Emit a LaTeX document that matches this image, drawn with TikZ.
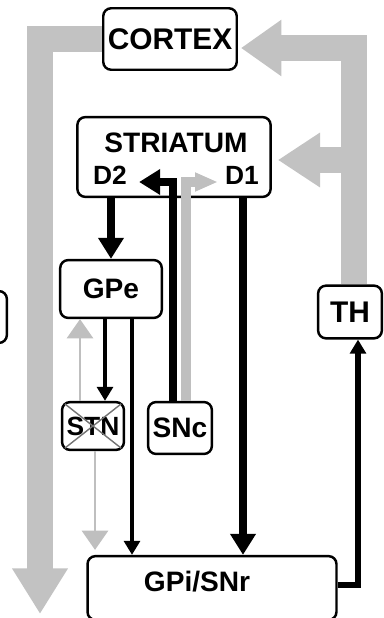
\documentclass[tikz,border=0pt]{standalone}
\usepackage{fontspec}
\setmainfont{Liberation Sans}
\usetikzlibrary{arrows.meta, calc}

\begin{document}
\begin{tikzpicture}[
    x=0.02cm, y=-0.02cm,
    box/.style={draw, line width=1.4pt, rounded corners=4.5pt, inner sep=0pt, font=\fontsize{16}{16}\selectfont\bfseries},
    lbl/.style={font=\fontsize{16}{16}\selectfont\bfseries, inner sep=0pt},
    band/.style={line width=15pt, black!24},
    fat/.style={line width=4.3pt, -{Triangle[width=14pt,length=12pt]}},
    slim/.style={line width=2.4pt, -{Triangle[width=9pt,length=8pt]}},
    faint/.style={line width=1.3pt, black!25, -{Triangle[width=15pt,length=11pt]}}
]
    \useasboundingbox (0,0) rectangle (384,618);

    % boxes
    \node[box, minimum width=76pt, minimum height=35pt, font=\fontsize{17}{17}\selectfont\bfseries] (cortex) at (170,39) {CORTEX};
    \node[box, minimum width=110pt, minimum height=45.4pt] (striatum) at (174,157) {};
    \node[lbl] (strlbl) at (176,143) {STRIATUM};
    \node[lbl, font=\fontsize{15}{15}\selectfont\bfseries] (d2) at (110,175) {D2};
    \node[lbl, font=\fontsize{15}{15}\selectfont\bfseries] (d1) at (242,175) {D1};
    \node[box, minimum width=57.8pt, minimum height=32.9pt] (gpe) at (111,289) {GPe};
    \node[box, minimum width=35.2pt, minimum height=27.2pt, font=\fontsize{15}{15}\selectfont\bfseries] (stn) at (93,426) {STN};
    \node[box, minimum width=36.3pt, minimum height=29.5pt] (snc) at (180,428) {SNc};
    \node[box, minimum width=36.3pt, minimum height=30pt, font=\fontsize{17}{17}\selectfont\bfseries] (th) at (350,312) {TH};
    \node[box, minimum width=141.7pt, minimum height=36.3pt] (gpi) at (212,588) {};
    \node[lbl] (gpilbl) at (197,582) {GPi/SNr};
    \node[box, minimum width=30.6pt, minimum height=29.5pt] (side) at (-20,317) {};

    % lesioned STN
    \draw[black!55, line width=0.8pt] ($(stn.north west)+(4,3)$) -- ($(stn.south east)+(-4,-3)$);
    \draw[black!55, line width=0.8pt] ($(stn.north east)+(-4,3)$) -- ($(stn.south west)+(4,-3)$);

    % grey loop cortex -> striatum, thalamus -> cortex
    \coordinate (leftend) at (40,614);
    \coordinate (branch) at (341,160);
    \draw[band, -{Triangle[width=30pt,length=26pt]}] (cortex.west) -| (leftend);
    \draw[band, -{Triangle[width=30.6pt,length=23pt]}] ($(th.north)+(4,0)$) |- ($(cortex.east)+(3,9)$);
    \draw[band, -{Triangle[width=29.5pt,length=24pt]}] (branch) -- ($(striatum.east)+(6,3)$);

    % dopamine
    \draw[line width=5.7pt, black!25, -{Triangle[width=10pt,length=13pt]}] ($(snc.north)+(6,0)$) |- ($(striatum.east)+(-54,25)$);
    \draw[fat] ($(snc.north)+(-7,0)$) |- ($(striatum.west)+(63,25)$);

    % indirect pathway
    \draw[fat, line width=4pt] (striatum.south -| gpe.north) -- (gpe.north);
    \draw[slim] ($(gpe.south)+(-6,0)$) -- ($(stn.north)+(12,0)$);
    \draw[faint] ($(stn.north)+(-13,0)$) -- ($(gpe.south)+(-31,0)$);
    \draw[faint] ($(stn.south)+(2,0)$) -- ($(gpi.north)+(-117,-5)$);
    \draw[slim] ($(gpe.south)+(21,0)$) -- ($(gpi.north)+(-80,0)$);

    % direct pathway
    \draw[fat] ($(striatum.south)+(69,0)$) -- ($(gpi.north)+(31,0)$);

    % output to thalamus
    \draw[slim, line width=2.9pt] ($(gpi.east)+(0,-3)$) -| ($(th.south)+(8,0)$);
\end{tikzpicture}
\end{document}
